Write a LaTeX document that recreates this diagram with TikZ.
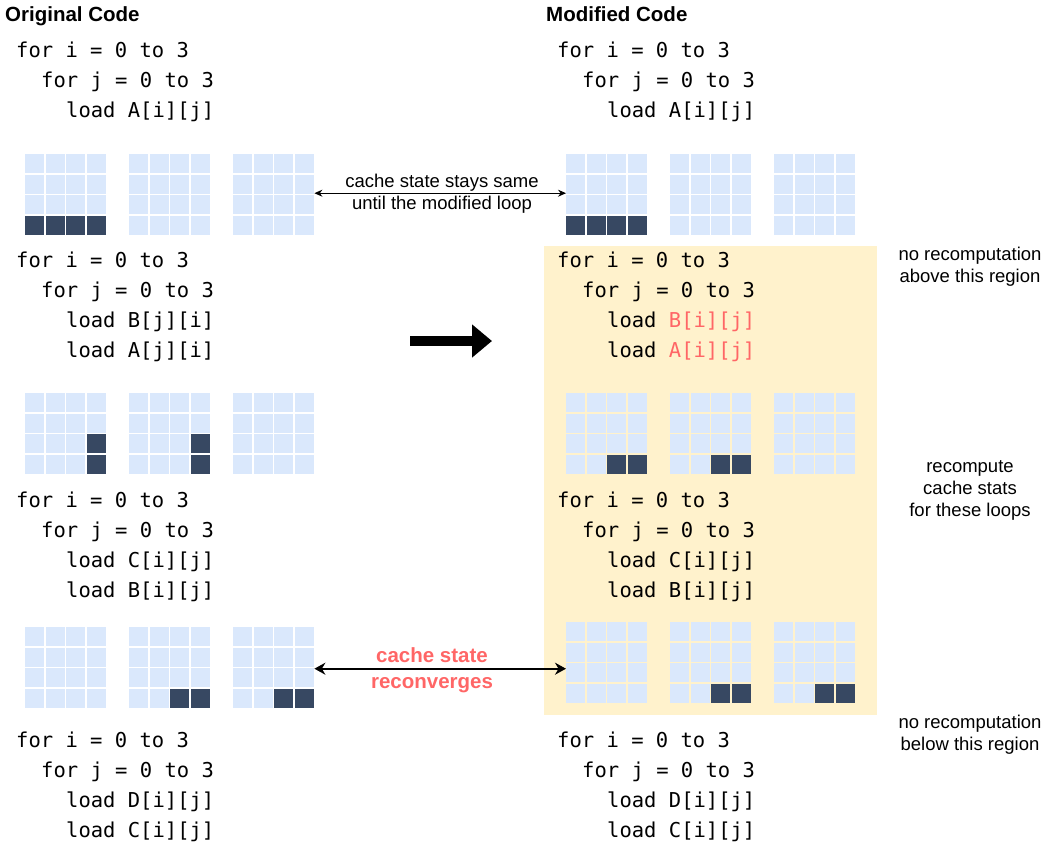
\documentclass[tikz,border=0pt]{standalone}
\usepackage{fontspec}
\setmainfont{Liberation Sans}
\newfontfamily\codefont{DejaVu Sans Mono}
\usetikzlibrary{arrows.meta}

\definecolor{cellfill}{HTML}{DAE8FC}
\definecolor{celldark}{HTML}{374862}
\definecolor{regionfill}{HTML}{FFF2CC}
\definecolor{changed}{HTML}{FF6666}

\tikzset{
  code/.style={font=\codefont\fontsize{20.5}{24}\selectfont, anchor=base west, inner sep=0pt},
  heading/.style={font=\bfseries\fontsize{20.5}{24}\selectfont, anchor=base west, inner sep=0pt},
  note/.style={font=\fontsize{18.5}{22}\selectfont, align=center, inner sep=0pt},
  gridbox/.style={minimum size=81pt, inner sep=0pt, anchor=north west},
}

% 4x4 cache grid: name, left, top
\newcommand\cachegrid[3]{%
  \node[gridbox] (#1) at (#2,#3) {};
  \foreach \c in {0,...,3}{\foreach \r in {0,...,3}{%
    \fill[cellfill, shift={(#2,#3)}] (\c*20.5,\r*20.5) rectangle ++(19.4,19.4);}}%
}
% occupied lines: left, top, list of col/row
\newcommand\darkcells[3]{%
  \foreach \c/\r in {#3}{%
    \fill[celldark, shift={(#1,#2)}] (\c*20.5,\r*20.5) rectangle ++(19.4,19.4);}%
}

\begin{document}
\begin{tikzpicture}[x=1pt,y=-1pt]
\useasboundingbox (0,0) rectangle (1053,844);

% region whose cache stats are recomputed
\node[fill=regionfill, anchor=north west, minimum width=333pt, minimum height=469pt, inner sep=0pt] (region) at (544,246) {};

% headings
\node[heading] (horig) at (5,21) {Original Code};
\node[heading] (hmod) at (546,21) {Modified Code};

% ---- original code ----
\node[code] (o11) at (16,57) {for i = 0 to 3};
\node[code] (o12) at (41,87) {for j = 0 to 3};
\node[code] (o13) at (66,117) {load A[i][j]};

\node[code] (o21) at (16,267) {for i = 0 to 3};
\node[code] (o22) at (41,297) {for j = 0 to 3};
\node[code] (o23) at (66,327) {load B[j][i]};
\node[code] (o24) at (66,357) {load A[j][i]};

\node[code] (o31) at (16,507) {for i = 0 to 3};
\node[code] (o32) at (41,537) {for j = 0 to 3};
\node[code] (o33) at (66,567) {load C[i][j]};
\node[code] (o34) at (66,597) {load B[i][j]};

\node[code] (o41) at (16,747) {for i = 0 to 3};
\node[code] (o42) at (41,777) {for j = 0 to 3};
\node[code] (o43) at (66,807) {load D[i][j]};
\node[code] (o44) at (66,837) {load C[i][j]};

% ---- modified code ----
\node[code] (m11) at (557,57) {for i = 0 to 3};
\node[code] (m12) at (582,87) {for j = 0 to 3};
\node[code] (m13) at (607,117) {load A[i][j]};

\node[code] (m21) at (557,267) {for i = 0 to 3};
\node[code] (m22) at (582,297) {for j = 0 to 3};
\node[code] (m23) at (607,327) {load \textcolor{changed}{B[i][j]}};
\node[code] (m24) at (607,357) {load \textcolor{changed}{A[i][j]}};

\node[code] (m31) at (557,507) {for i = 0 to 3};
\node[code] (m32) at (582,537) {for j = 0 to 3};
\node[code] (m33) at (607,567) {load C[i][j]};
\node[code] (m34) at (607,597) {load B[i][j]};

\node[code] (m41) at (557,747) {for i = 0 to 3};
\node[code] (m42) at (582,777) {for j = 0 to 3};
\node[code] (m43) at (607,807) {load D[i][j]};
\node[code] (m44) at (607,837) {load C[i][j]};

% ---- cache grids, original ----
\cachegrid{L11}{25}{154}  \darkcells{25}{154}{0/3,1/3,2/3,3/3}
\cachegrid{L12}{129}{154}
\cachegrid{L13}{233}{154}
\cachegrid{L21}{25}{393}  \darkcells{25}{393}{3/2,3/3}
\cachegrid{L22}{129}{393} \darkcells{129}{393}{3/2,3/3}
\cachegrid{L23}{233}{393}
\cachegrid{L31}{25}{627}
\cachegrid{L32}{129}{627} \darkcells{129}{627}{2/3,3/3}
\cachegrid{L33}{233}{627} \darkcells{233}{627}{2/3,3/3}

% ---- cache grids, modified ----
\cachegrid{R11}{566}{154} \darkcells{566}{154}{0/3,1/3,2/3,3/3}
\cachegrid{R12}{670}{154}
\cachegrid{R13}{774}{154}
\cachegrid{R21}{566}{393} \darkcells{566}{393}{2/3,3/3}
\cachegrid{R22}{670}{393} \darkcells{670}{393}{2/3,3/3}
\cachegrid{R23}{774}{393}
\cachegrid{R31}{566}{622}
\cachegrid{R32}{670}{622} \darkcells{670}{622}{2/3,3/3}
\cachegrid{R33}{774}{622} \darkcells{774}{622}{2/3,3/3}

% ---- connectors ----
\draw[line width=1pt, {Stealth[length=8pt,width=7pt]}-{Stealth[length=8pt,width=7pt]}]
  ([yshift=1.5pt]L13.east) -- ([yshift=1.5pt]R11.west);
\node[note] (same) at (442,194) {cache state stays same\\until the modified loop};

\draw[line width=2pt, {Stealth[length=11pt,width=12pt]}-{Stealth[length=11pt,width=12pt]}]
  ([yshift=-1pt]L33.east) -- ([yshift=-1pt]L33.east -| R31.west);
\node[note, font=\bfseries\fontsize{20.5}{26}\selectfont, text=changed] (conv) at (432,670) {cache state\\reconverges};

\coordinate (bigA) at (410,341);
\coordinate (bigB) at (492,341);
\draw[line width=10pt, -{Triangle[length=20pt,width=32pt]}] (bigA) -- (bigB);

% ---- side notes ----
\node[note] (above) at (970,267) {no recomputation\\above this region};
\node[note] (recomp) at (970,490) {recompute\\cache stats\\for these loops};
\node[note] (below) at (970,735) {no recomputation\\below this region};
\end{tikzpicture}
\end{document}
